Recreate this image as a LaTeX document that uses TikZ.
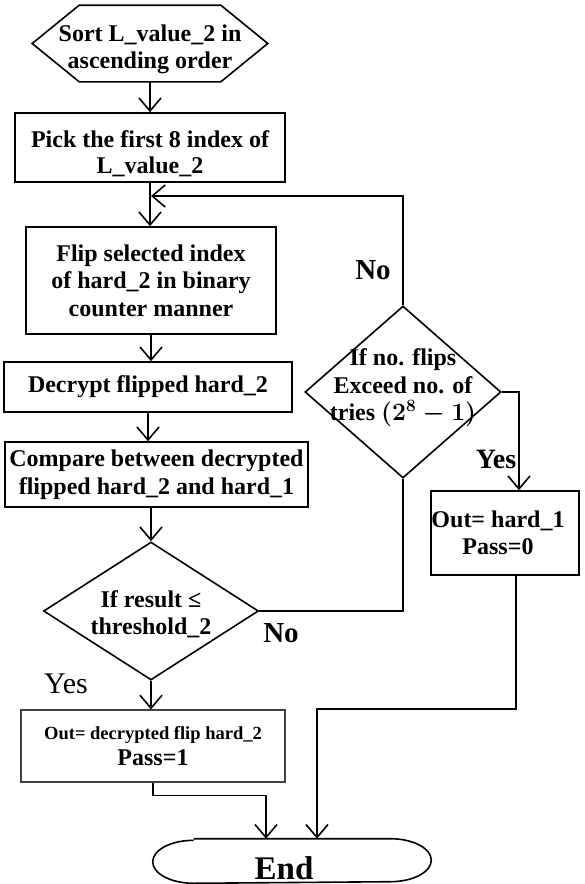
\documentclass[tikz,border=0pt]{standalone}
\usepackage{fontspec}
\setmainfont{Liberation Serif}
\usetikzlibrary{arrows.meta,shapes.geometric}

\begin{document}
\begin{tikzpicture}[x=1pt, y=-1pt, line width=1.6pt,
  font=\fontsize{24}{27.5}\selectfont\bfseries,
  blank/.style={inner sep=0pt, align=center},
  box/.style={draw, inner sep=0pt, align=center},
  dec/.style={draw, diamond, inner sep=0pt},
  arr/.style={-{Straight Barb[length=13pt, width=22pt]}},
  tag/.style={font=\fontsize{29}{29}\selectfont\bfseries}]
\useasboundingbox (0,0) rectangle (584,884);
\node[blank, minimum width=234pt, minimum height=75pt,
  label={[blank, yshift=-6pt]center:{Sort L\_value\_2 in\\ascending order}}] (sort) at (150,43.5) {};
\draw (sort.west) -- ([xshift=47pt]sort.north west) -- ([xshift=-47pt]sort.north east) -- (sort.east)
  -- ([xshift=-47pt]sort.south east) -- ([xshift=47pt]sort.south west) -- cycle;
\node[box, minimum width=270pt, minimum height=69pt,
  label={[blank, yshift=-6pt]center:{Pick the first 8 index of\\[-1.5pt]L\_value\_2}}] (pick) at (150,147.5) {};
\node[box, minimum width=250pt, minimum height=107pt] (flip) at (151,280.5) {Flip selected index\\of hard\_2 in binary\\counter manner};
\node[box, minimum width=288pt, minimum height=50pt] (decrypt) at (148,387) {Decrypt flipped hard\_2};
\node[box, minimum width=303pt, minimum height=65pt] (compare) at (156.5,474.5) {Compare between decrypted\\flipped hard\_2 and hard\_1};
\node[dec, minimum width=215pt, minimum height=138pt,
  label={[blank, yshift=-3pt]center:{If result ≤\\threshold\_2}}] (result) at (151,611) {};
\node[dec, minimum width=196pt, minimum height=172pt,
  label={[blank, yshift=4pt]center:{If no. flips\\Exceed no. of\\tries {\boldmath$(2^8-1)$}}}] (flips) at (403,392) {};
\node[box, minimum width=148pt, minimum height=84pt,
  label={[blank, xshift=-7pt]center:{Out= hard\_1\\Pass=0}}] (outzero) at (505,533) {};
\node[box, line width=1.1pt, draw=black!75, minimum width=264pt, minimum height=72pt] (outpass) at (153,746)
  {{\fontsize{18.5}{20}\selectfont Out= decrypted flip hard\_2}\\[-1.5pt]Pass=1};
\node[blank, minimum width=277pt, minimum height=43pt,
  label={[blank, font=\fontsize{33}{33}\selectfont\bfseries, xshift=-8pt, yshift=-7pt]center:End}] (end) at (292,861) {};
\draw ([xshift=41pt]end.north west) -- ([xshift=-41pt]end.north east)
  arc[start angle=90, end angle=-90, x radius=41pt, y radius=21.5pt]
  -- ([xshift=41pt]end.south west)
  arc[start angle=270, end angle=90, x radius=41pt, y radius=21.5pt];
\node[tag] (no1) at (373,270) {No};
\node[tag] (no2) at (281,633) {No};
\node[tag, font=\fontsize{28}{28}\selectfont\bfseries] (yes1) at (496,459) {Yes};
\node[font=\normalfont\fontsize{30}{30}\selectfont] (yes2) at (66,684) {Yes};
\coordinate (loopin) at (151,196);
\draw[arr] (sort) -- (pick);
\draw[arr] (pick.south) -- (pick.south |- flip.north);
\draw[arr] (flip.south) -- (flip.south |- decrypt.north);
\draw[arr] (decrypt.south) -- (decrypt.south |- compare.north);
\draw[arr] (compare.south -| result.north) -- (result.north);
\draw[arr] (result.south) -- (result.south |- outpass.north);
\draw (result.east) -| (flips.south);
\draw[arr] (flips.north) |- (loopin);
\draw[arr] (flips.east) -| ([xshift=14pt]outzero.north);
\draw[arr] ([xshift=11pt]outzero.south) -- ++(0,133) -| ([xshift=25pt]end.north);
\draw[arr] (outpass.south) -- ++(0,13) -| ([xshift=-26pt]end.north);
\end{tikzpicture}
\end{document}
